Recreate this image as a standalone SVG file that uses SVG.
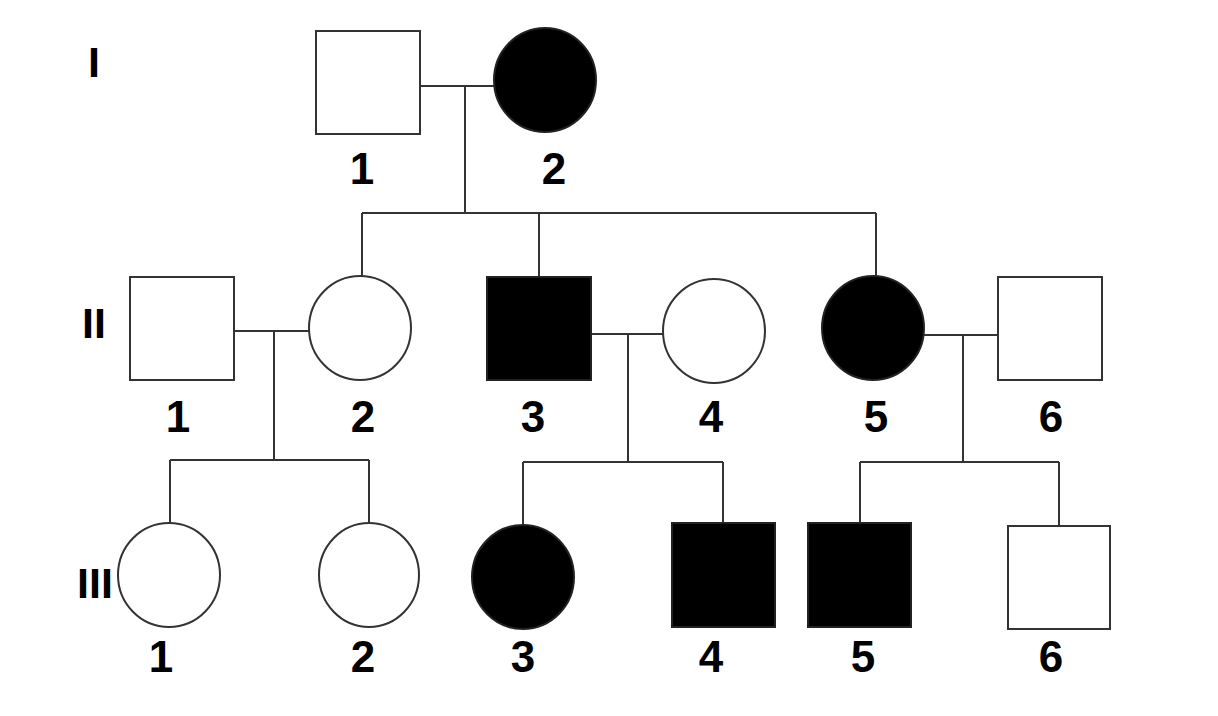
<svg xmlns="http://www.w3.org/2000/svg" width="1218" height="716" viewBox="0 0 1218 716">
<style>
.m{fill:#fff;stroke:#333;stroke-width:2}
.a{fill:#000;stroke:#222;stroke-width:2}
.ln{fill:none;stroke:#333;stroke-width:2}
.lb{font-family:"Liberation Sans",Arial,sans-serif;font-weight:bold;font-size:44px;fill:#000;text-anchor:middle}
.gen{font-family:"Liberation Sans",Arial,sans-serif;font-weight:bold;font-size:43px;fill:#000;text-anchor:middle}
</style>
<rect width="1218" height="716" fill="#fff"/>
<g id="connectors">
<path class="ln" d="M420 86H494M465 86V213M362 213H876M362 213V277M539 213V277M876 213V277"/>
<path class="ln" d="M234 331H309M274 331V460M170 460H369M170 460V523M369 460V523"/>
<path class="ln" d="M591 334H663M628 334V462M523 462H723M523 462V525M723 462V523"/>
<path class="ln" d="M924 335H998M963 335V462M860 462H1059M860 462V523M1059 462V526"/>
</g>
<g id="gen-labels">
<text class="gen" x="94" y="77">I</text>
<text class="gen" x="94" y="338">II</text>
<text class="gen" x="95" y="598">III</text>
</g>
<g id="I-1"><rect class="m" x="316" y="31" width="104" height="103"/><text class="lb" x="362" y="184">1</text></g>
<g id="I-2"><ellipse class="a" cx="545" cy="80" rx="51" ry="52"/><text class="lb" x="554" y="184">2</text></g>
<g id="II-1"><rect class="m" x="130" y="277" width="104" height="103"/><text class="lb" x="178" y="432">1</text></g>
<g id="II-2"><ellipse class="m" cx="360" cy="328" rx="51" ry="52"/><text class="lb" x="363" y="432">2</text></g>
<g id="II-3"><rect class="a" x="487" y="277" width="104" height="103"/><text class="lb" x="533" y="432">3</text></g>
<g id="II-4"><ellipse class="m" cx="714" cy="331" rx="51" ry="52"/><text class="lb" x="711" y="432">4</text></g>
<g id="II-5"><ellipse class="a" cx="873" cy="328" rx="51" ry="52"/><text class="lb" x="876" y="432">5</text></g>
<g id="II-6"><rect class="m" x="998" y="277" width="104" height="103"/><text class="lb" x="1051" y="432">6</text></g>
<g id="III-1"><ellipse class="m" cx="169" cy="575" rx="51" ry="52"/><text class="lb" x="161" y="672">1</text></g>
<g id="III-2"><ellipse class="m" cx="369" cy="575" rx="50" ry="52"/><text class="lb" x="363" y="672">2</text></g>
<g id="III-3"><ellipse class="a" cx="523" cy="577" rx="51" ry="52"/><text class="lb" x="523" y="672">3</text></g>
<g id="III-4"><rect class="a" x="672" y="523" width="103" height="104"/><text class="lb" x="711" y="672">4</text></g>
<g id="III-5"><rect class="a" x="808" y="523" width="103" height="104"/><text class="lb" x="863" y="672">5</text></g>
<g id="III-6"><rect class="m" x="1008" y="526" width="102" height="103"/><text class="lb" x="1051" y="672">6</text></g>
</svg>
